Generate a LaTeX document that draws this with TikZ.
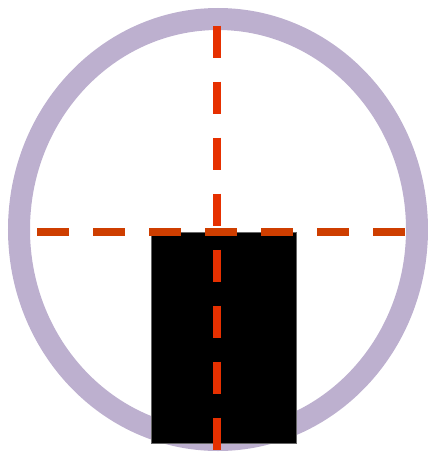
\documentclass[tikz,border=0pt]{standalone}
\usetikzlibrary{positioning}

\definecolor{ringlilac}{RGB}{189,176,207}
\definecolor{axisred}{RGB}{230,48,0}
\definecolor{axisrust}{RGB}{206,62,0}

\begin{document}
\begin{tikzpicture}[x=1pt, y=-1pt,
      ring/.style={draw=ringlilac, line width=22pt},
      block/.style={fill=black, draw=black!60, line width=0.5pt},
      axisline/.style={line width=8pt, dash pattern=on 32pt off 24pt}]
    \useasboundingbox (0,0) rectangle (428,455);
    % lens outline
    \draw[ring] (218,229.5) ellipse [x radius=199, y radius=210.5];
    % body
    \filldraw[block] (151.5,232) rectangle (296.5,443);
    % cross hairs
    \coordinate (hl) at (37,232);
    \coordinate (hr) at (406,232);
    \coordinate (vt) at (217,25.7);
    \coordinate (vb) at (217,450);
    \draw[axisline, axisrust, line width=7.5pt] (hl) -- (hr);
    \draw[axisline, axisred] (vt) -- (vb);
\end{tikzpicture}
\end{document}
